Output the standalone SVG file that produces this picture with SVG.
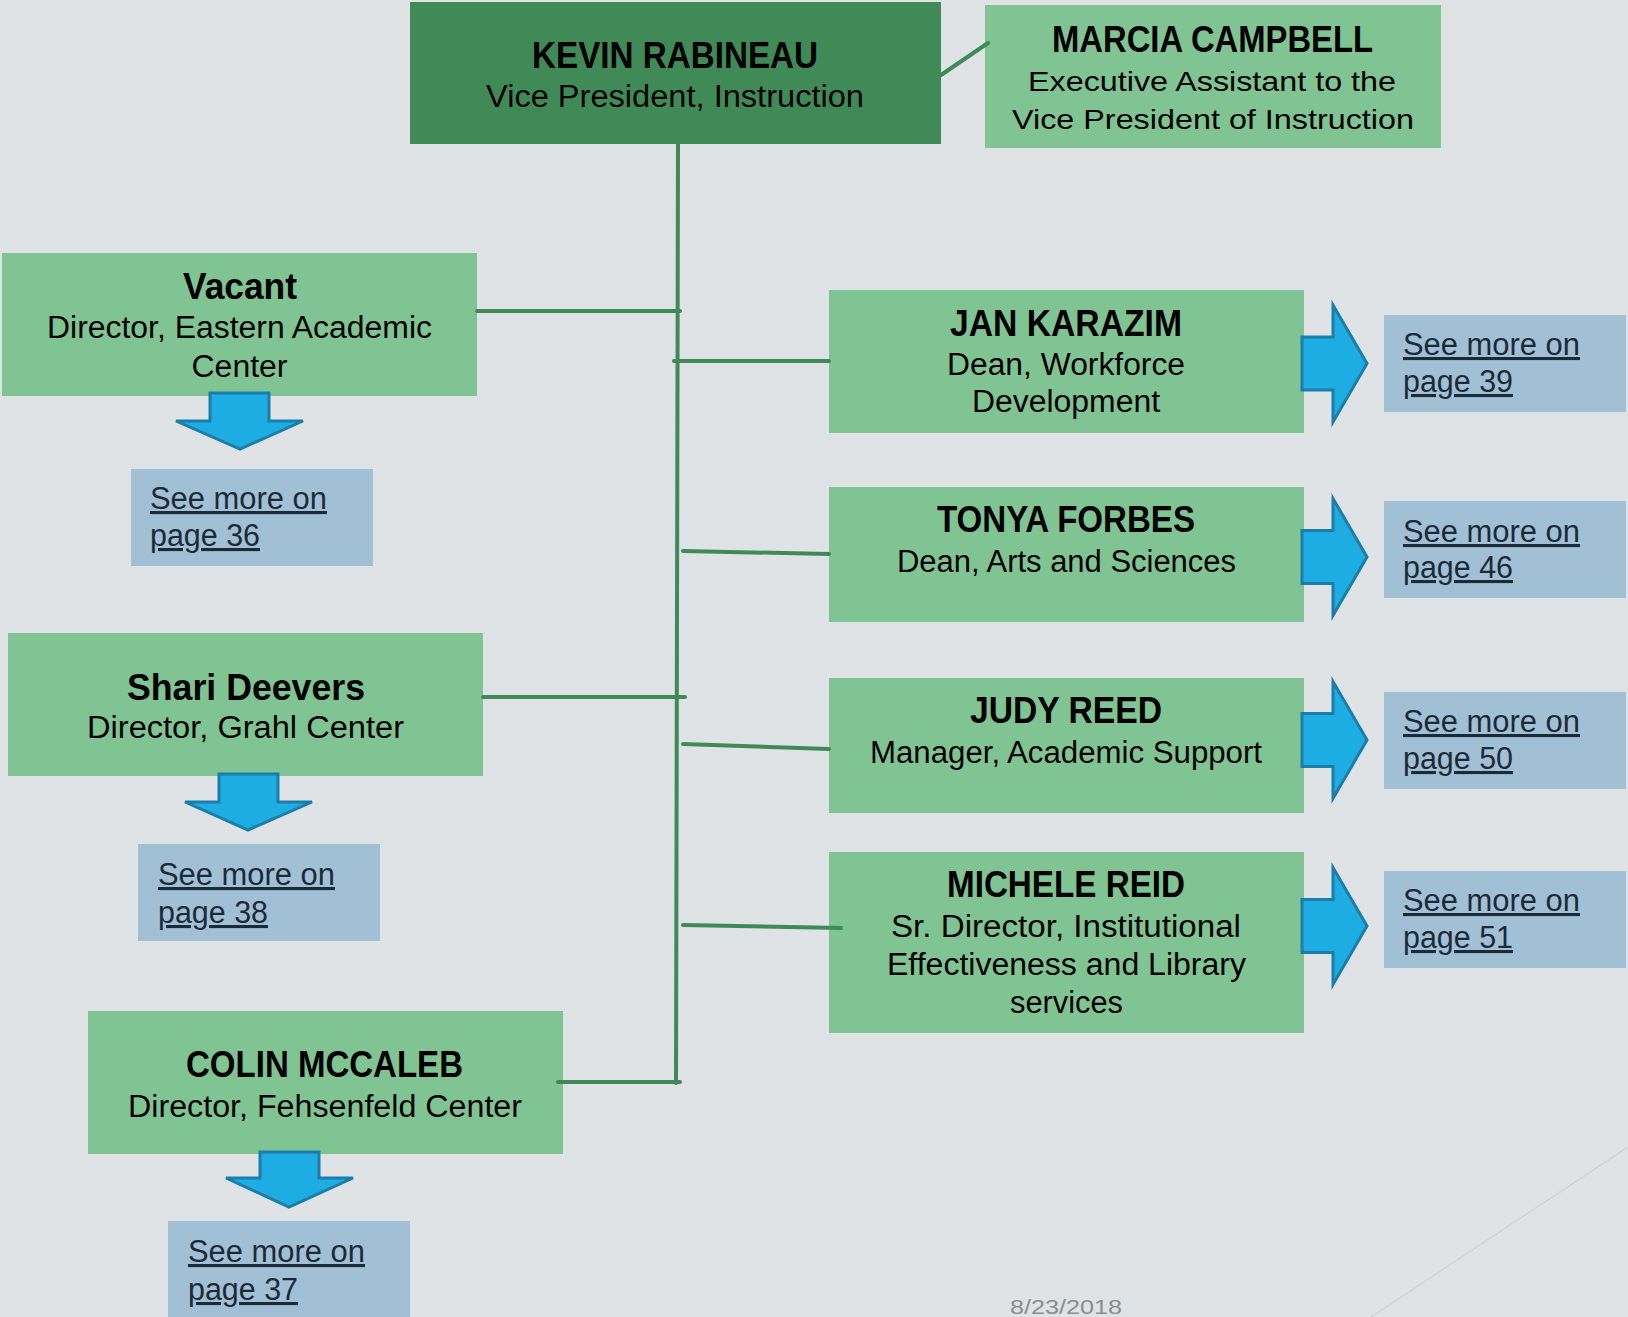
<svg xmlns="http://www.w3.org/2000/svg" xmlns:xlink="http://www.w3.org/1999/xlink" width="1628" height="1317" viewBox="0 0 1628 1317">
<style>
.bg{fill:#dfe3e6}
.dark{fill:#3f8a57}
.box{fill:#7fc492}
.link{fill:#a2c0d5}
.arrow{fill:#1eade3;stroke:#1a7ea9;stroke-width:3;stroke-linejoin:miter}
.conn{stroke:#3f8a57;stroke-width:4;fill:none;stroke-linecap:round}
text{font-family:"Liberation Sans",Arial,sans-serif;fill:#000}
.name{font-weight:bold;font-size:36px;text-anchor:middle}
.role{font-size:31px;text-anchor:middle}
.role2{font-size:28px;text-anchor:middle}
.see{font-size:31px;fill:#1c2a38;text-decoration:underline}
.date{font-size:20px;fill:#8c8c8c}
</style>
<defs>
<polygon id="rarrow" points="1302,337 1333,337 1333,305 1367,363.5 1333,422 1333,390 1302,390"/>
</defs>
<rect class="bg" x="0" y="0" width="1628" height="1317"/>
<line x1="1628" y1="1147" x2="1371" y2="1317" stroke="#d2d4d7" stroke-width="1.5"/>

<g id="kevin">
<rect class="dark" x="410" y="2" width="531" height="142"/>
<text class="name" x="675" y="68" textLength="286" lengthAdjust="spacingAndGlyphs">KEVIN RABINEAU</text>
<text class="role" x="675" y="107" textLength="378" lengthAdjust="spacingAndGlyphs">Vice President, Instruction</text>
</g>

<g id="marcia">
<rect class="box" x="985" y="5" width="456" height="143"/>
<text class="name" x="1212.5" y="52" textLength="321" lengthAdjust="spacingAndGlyphs">MARCIA CAMPBELL</text>
<text class="role2" x="1212" y="91" textLength="368" lengthAdjust="spacingAndGlyphs">Executive Assistant to the</text>
<text class="role2" x="1213" y="129" textLength="402" lengthAdjust="spacingAndGlyphs">Vice President of Instruction</text>
</g>

<g id="vacant">
<rect class="box" x="2" y="253" width="475" height="143"/>
<text class="name" x="240" y="299" textLength="114" lengthAdjust="spacingAndGlyphs">Vacant</text>
<text class="role" x="239.5" y="338" textLength="385" lengthAdjust="spacingAndGlyphs">Director, Eastern Academic</text>
<text class="role" x="239.5" y="377" textLength="96" lengthAdjust="spacingAndGlyphs">Center</text>
</g>
<g id="vacant-arrow">
<polygon class="arrow" points="210,393 269,393 269,421 303,421 240,449 176,421 210,421"/>
</g>
<g id="see36">
<rect class="link" x="131" y="469" width="242" height="97"/>
<text class="see" x="150" y="509" textLength="177" lengthAdjust="spacingAndGlyphs">See more on</text>
<text class="see" x="150" y="546" textLength="110" lengthAdjust="spacingAndGlyphs">page 36</text>
</g>

<g id="shari">
<rect class="box" x="8" y="633" width="475" height="143"/>
<text class="name" x="246" y="700" textLength="238" lengthAdjust="spacingAndGlyphs">Shari Deevers</text>
<text class="role" x="245.5" y="738" textLength="317" lengthAdjust="spacingAndGlyphs">Director, Grahl Center</text>
</g>
<g id="shari-arrow">
<polygon class="arrow" points="219,774 278,774 278,802 312,802 248,830 185,802 219,802"/>
</g>
<g id="see38">
<rect class="link" x="138" y="844" width="242" height="97"/>
<text class="see" x="158" y="885" textLength="177" lengthAdjust="spacingAndGlyphs">See more on</text>
<text class="see" x="158" y="923" textLength="110" lengthAdjust="spacingAndGlyphs">page 38</text>
</g>

<g id="colin">
<rect class="box" x="88" y="1011" width="475" height="143"/>
<text class="name" x="324.5" y="1077" textLength="277" lengthAdjust="spacingAndGlyphs">COLIN MCCALEB</text>
<text class="role" x="325" y="1117" textLength="394" lengthAdjust="spacingAndGlyphs">Director, Fehsenfeld Center</text>
</g>
<g id="colin-arrow">
<polygon class="arrow" points="260,1152 319,1152 319,1178 353,1178 289,1207 226,1178 260,1178"/>
</g>
<g id="see37">
<rect class="link" x="168" y="1221" width="242" height="97"/>
<text class="see" x="188" y="1262" textLength="177" lengthAdjust="spacingAndGlyphs">See more on</text>
<text class="see" x="188" y="1300" textLength="110" lengthAdjust="spacingAndGlyphs">page 37</text>
</g>

<g id="jan">
<rect class="box" x="829" y="290" width="475" height="143"/>
<text class="name" x="1066" y="336" textLength="232" lengthAdjust="spacingAndGlyphs">JAN KARAZIM</text>
<text class="role" x="1066" y="375" textLength="238" lengthAdjust="spacingAndGlyphs">Dean, Workforce</text>
<text class="role" x="1066" y="412" textLength="188" lengthAdjust="spacingAndGlyphs">Development</text>
</g>
<g id="jan-arrow"><use xlink:href="#rarrow" class="arrow"/></g>
<g id="see39">
<rect class="link" x="1384" y="315" width="242" height="97"/>
<text class="see" x="1403" y="355" textLength="177" lengthAdjust="spacingAndGlyphs">See more on</text>
<text class="see" x="1403" y="392" textLength="110" lengthAdjust="spacingAndGlyphs">page 39</text>
</g>

<g id="tonya">
<rect class="box" x="829" y="487" width="475" height="135"/>
<text class="name" x="1066" y="532" textLength="258" lengthAdjust="spacingAndGlyphs">TONYA FORBES</text>
<text class="role" x="1066.5" y="572" textLength="339" lengthAdjust="spacingAndGlyphs">Dean, Arts and Sciences</text>
</g>
<g id="tonya-arrow"><use xlink:href="#rarrow" class="arrow" transform="translate(0,193.5)"/></g>
<g id="see46">
<rect class="link" x="1384" y="501" width="242" height="97"/>
<text class="see" x="1403" y="542" textLength="177" lengthAdjust="spacingAndGlyphs">See more on</text>
<text class="see" x="1403" y="578" textLength="110" lengthAdjust="spacingAndGlyphs">page 46</text>
</g>

<g id="judy">
<rect class="box" x="829" y="678" width="475" height="135"/>
<text class="name" x="1066" y="723" textLength="192" lengthAdjust="spacingAndGlyphs">JUDY REED</text>
<text class="role" x="1066" y="763" textLength="392" lengthAdjust="spacingAndGlyphs">Manager, Academic Support</text>
</g>
<g id="judy-arrow"><use xlink:href="#rarrow" class="arrow" transform="translate(0,376.5)"/></g>
<g id="see50">
<rect class="link" x="1384" y="692" width="242" height="97"/>
<text class="see" x="1403" y="732" textLength="177" lengthAdjust="spacingAndGlyphs">See more on</text>
<text class="see" x="1403" y="769" textLength="110" lengthAdjust="spacingAndGlyphs">page 50</text>
</g>

<g id="michele">
<rect class="box" x="829" y="852" width="475" height="181"/>
<text class="name" x="1066" y="897" textLength="238" lengthAdjust="spacingAndGlyphs">MICHELE REID</text>
<text class="role" x="1066" y="937" textLength="350" lengthAdjust="spacingAndGlyphs">Sr. Director, Institutional</text>
<text class="role" x="1066.5" y="975" textLength="359" lengthAdjust="spacingAndGlyphs">Effectiveness and Library</text>
<text class="role" x="1066.5" y="1013" textLength="113" lengthAdjust="spacingAndGlyphs">services</text>
</g>
<g id="michele-arrow"><use xlink:href="#rarrow" class="arrow" transform="translate(0,562.5)"/></g>
<g id="see51">
<rect class="link" x="1384" y="871" width="242" height="97"/>
<text class="see" x="1403" y="911" textLength="177" lengthAdjust="spacingAndGlyphs">See more on</text>
<text class="see" x="1403" y="948" textLength="110" lengthAdjust="spacingAndGlyphs">page 51</text>
</g>

<g id="connectors">
<line class="conn" x1="941" y1="75" x2="988" y2="43"/>
<line class="conn" x1="678" y1="144" x2="676" y2="1083"/>
<line class="conn" x1="477" y1="311" x2="680" y2="311"/>
<line class="conn" x1="674" y1="361" x2="829" y2="361"/>
<line class="conn" x1="683" y1="551" x2="829" y2="554"/>
<line class="conn" x1="483" y1="697" x2="685" y2="697"/>
<line class="conn" x1="683" y1="744" x2="829" y2="749"/>
<line class="conn" x1="683" y1="925" x2="841" y2="928"/>
<line class="conn" x1="558" y1="1082" x2="680" y2="1082"/>
</g>

<text class="date" x="1010" y="1314" textLength="112" lengthAdjust="spacingAndGlyphs">8/23/2018</text>
</svg>
